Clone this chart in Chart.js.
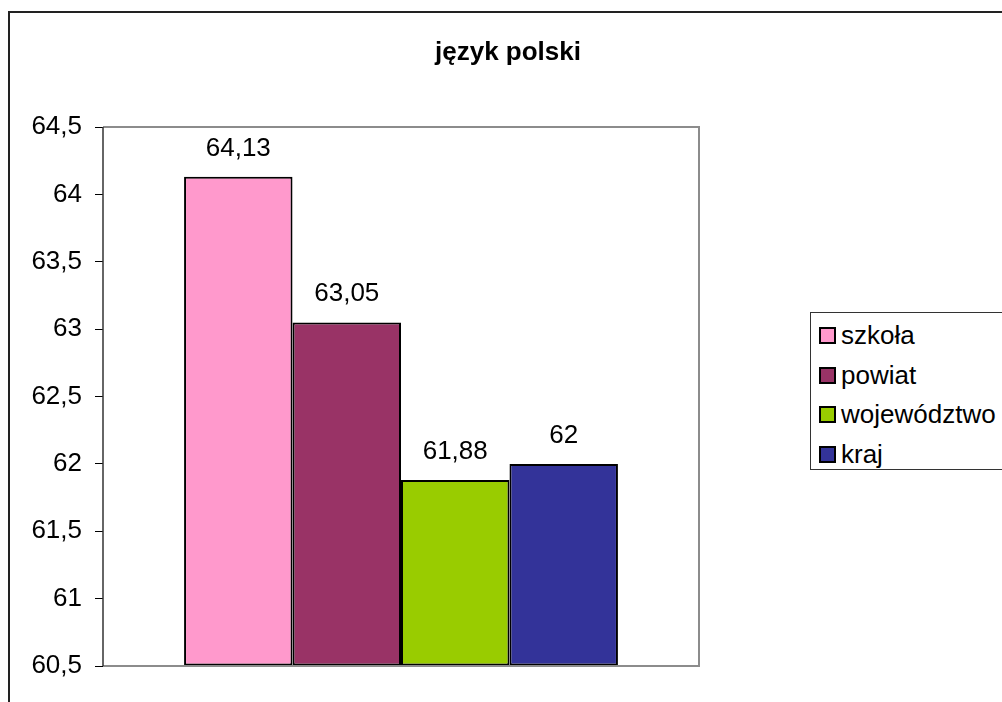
<!DOCTYPE html>
<html>
<head>
<meta charset="utf-8">
<script src="https://cdn.jsdelivr.net/npm/chart.js@4"></script>
<style>
  html, body { margin: 0; padding: 0; background: #fff; overflow: hidden; }
  #wrap { position: relative; width: 1002px; height: 702px; }
  #frame {
    position: absolute; left: 8px; top: 11px; width: 1100px; height: 800px;
    border: 2px solid #222; box-sizing: border-box;
  }
  #title {
    position: absolute; left: 0; width: 1016px; top: 36px; text-align: center;
    font: bold 26px "Liberation Sans", Arial, sans-serif; color: #000;
  }
  #chart { position: absolute; left: 0; top: 0; }
  #legend {
    position: absolute; left: 810px; top: 312px; width: 220px; height: 158px;
    border: 1px solid #333; box-sizing: border-box; background: #fff;
    font: 26px "Liberation Sans", Arial, sans-serif; color: #000;
    padding-top: 3px;
  }
  .legend-item { height: 39.5px; display: flex; align-items: center; padding-left: 8px; }
  .legend-box { width: 13px; height: 13px; border: 2px solid #000; margin-right: 5px; }
</style>
</head>
<body>
<div id="wrap">
  <div id="frame"></div>
  <canvas id="chart" width="1002" height="702"></canvas>
  <div id="title">język polski</div>
  <div id="legend"></div>
</div>
<script>
// ── Data ──────────────────────────────────────────────────────
const categories = [''];
const seriesNames  = ['szkoła', 'powiat', 'województwo', 'kraj'];
const seriesValues = [64.13, 63.05, 61.88, 62];
const seriesColors = ['#FF99CC', '#993366', '#99CC00', '#333399'];
const yTicks = [60.5, 61, 61.5, 62, 62.5, 63, 63.5, 64, 64.5];

function fmt(v) {
  return String(Number(v.toFixed(2))).replace('.', ',');
}

const FONT = '"Liberation Sans", Arial, sans-serif';

// ── Value labels above bars ───────────────────────────────────
const valueLabels = {
  id: 'valueLabels',
  afterDatasetsDraw(chart) {
    const ctx = chart.ctx;
    ctx.save();
    ctx.font = '26px ' + FONT;
    ctx.fillStyle = '#000';
    ctx.textAlign = 'center';
    ctx.textBaseline = 'alphabetic';
    chart.data.datasets.forEach(function (ds, i) {
      const bar = chart.getDatasetMeta(i).data[0];
      ctx.fillText(fmt(ds.data[0]), bar.x, bar.y - 21);
    });
    ctx.restore();
  }
};

// ── Gray plot area frame ──────────────────────────────────────
const plotFrame = {
  id: 'plotFrame',
  afterDatasetsDraw(chart) {
    const a = chart.chartArea;
    const ctx = chart.ctx;
    ctx.save();
    ctx.strokeStyle = '#8c8c8c';
    ctx.lineWidth = 2;
    ctx.beginPath();
    ctx.moveTo(a.left, a.top);
    ctx.lineTo(a.right, a.top);
    ctx.lineTo(a.right, a.bottom);
    ctx.lineTo(a.left, a.bottom);
    ctx.stroke();
    ctx.strokeStyle = '#333';
    ctx.lineWidth = 1.5;
    ctx.beginPath();
    ctx.moveTo(a.left, a.top);
    ctx.lineTo(a.left, a.bottom);
    ctx.stroke();
    ctx.restore();
  }
};

new Chart(document.getElementById('chart'), {
  type: 'bar',
  data: {
    labels: categories,
    datasets: seriesNames.map(function (name, i) {
      return {
        label: name,
        data: [seriesValues[i]],
        backgroundColor: seriesColors[i],
        borderColor: '#000',
        borderWidth: 2,
        borderSkipped: false,
        base: yTicks[0]
      };
    })
  },
  options: {
    responsive: false,
    animation: false,
    layout: { padding: { top: 127, right: 303, left: 0, bottom: 0 } },
    plugins: { legend: { display: false }, tooltip: { enabled: false } },
    datasets: { bar: { barPercentage: 1, categoryPercentage: 0.728 } },
    scales: {
      x: {
        grid: { display: false },
        border: { display: false },
        ticks: { display: false },
        afterFit(s) { s.height = 36; }
      },
      y: {
        min: yTicks[0],
        max: yTicks[yTicks.length - 1],
        afterBuildTicks(s) { s.ticks = yTicks.map(function (v) { return { value: v }; }); },
        grid: { drawOnChartArea: false, drawTicks: true, tickLength: 8, color: '#000', lineWidth: 1 },
        border: { display: false },
        ticks: {
          padding: 13,
          color: '#000',
          font: { family: FONT, size: 26 },
          callback: function (v) { return fmt(v); }
        },
        afterFit(s) { s.width = 103; }
      }
    }
  },
  plugins: [plotFrame, valueLabels]
});

// ── Legend ────────────────────────────────────────────────────
document.getElementById('legend').innerHTML = seriesNames.map(function (name, i) {
  return '<div class="legend-item"><div class="legend-box" style="background:' +
    seriesColors[i] + '"></div><span>' + name + '</span></div>';
}).join('');
</script>
</body>
</html>
